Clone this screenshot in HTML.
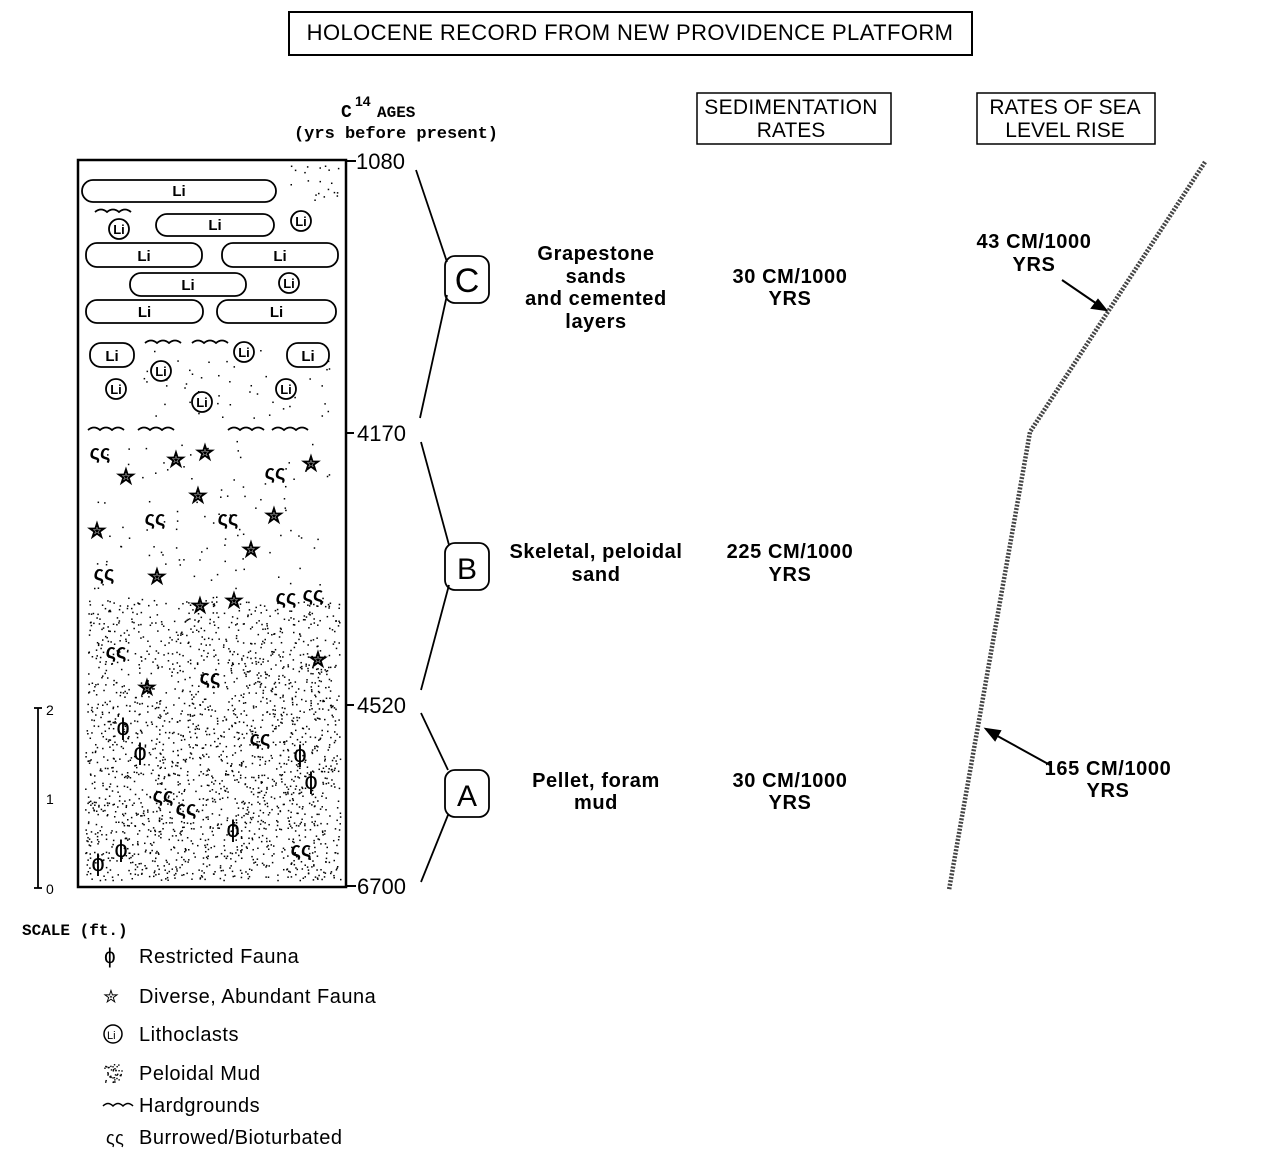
<!DOCTYPE html>
<html><head><meta charset="utf-8"><style>
body{margin:0;background:#fff;}
svg{display:block;font-family:"Liberation Sans",sans-serif;}
.b{font-weight:bold;font-size:20px;letter-spacing:0.6px;}
.n{font-size:22px;}
</style></head><body>
<svg id="s" width="1264" height="1165" viewBox="0 0 1264 1165">
<rect x="289" y="12" width="683" height="43" fill="none" stroke="#000" stroke-width="2"/>
<text x="630" y="40" text-anchor="middle" font-size="22" letter-spacing="0.4">HOLOCENE  RECORD FROM NEW PROVIDENCE  PLATFORM</text>
<text x="341" y="117" font-family="Liberation Mono" font-size="18" font-weight="bold">C</text><text x="355" y="106" font-size="14" font-weight="bold">14</text><text x="377" y="117" font-family="Liberation Mono" font-size="16" font-weight="bold">AGES</text>
<text x="396" y="138" text-anchor="middle" font-family="Liberation Mono" font-size="17" font-weight="bold">(yrs before present)</text>
<rect x="697" y="93" width="194" height="51" fill="none" stroke="#000" stroke-width="1.5"/>
<text x="791" y="114" text-anchor="middle" font-size="21" letter-spacing="0.3">SEDIMENTATION</text><text x="791" y="137" text-anchor="middle" font-size="21">RATES</text>
<rect x="977" y="93" width="178" height="51" fill="none" stroke="#000" stroke-width="1.5"/>
<text x="1065" y="114" text-anchor="middle" font-size="21">RATES OF SEA</text><text x="1065" y="137" text-anchor="middle" font-size="21">LEVEL RISE</text>
<g id="col"></g>
<rect x="78" y="160" width="268" height="727" fill="none" stroke="#000" stroke-width="2.5"/>
<g stroke="#000" stroke-width="2"><line x1="346" y1="161" x2="356" y2="161"/><line x1="346" y1="433" x2="354" y2="433"/><line x1="346" y1="705" x2="354" y2="705"/><line x1="346" y1="886" x2="356" y2="886"/></g>
<text x="356" y="169" class="n">1080</text><text x="357" y="441" class="n">4170</text><text x="357" y="713" class="n">4520</text><text x="357" y="894" class="n">6700</text>
<g fill="none" stroke="#000" stroke-width="1.8">
<polyline points="416,170 447,262"/><polyline points="447,295 420,418"/>
<polyline points="421,442 449,545"/><polyline points="449,585 421,690"/>
<polyline points="421,713 448,770"/><polyline points="448,815 421,882"/>
<rect x="445" y="256" width="44" height="47" rx="10"/><rect x="445" y="543" width="44" height="47" rx="10"/><rect x="445" y="770" width="44" height="47" rx="10"/>
</g>
<text x="467" y="292" text-anchor="middle" font-size="34">C</text><text x="467" y="579" text-anchor="middle" font-size="30">B</text><text x="467" y="806" text-anchor="middle" font-size="30">A</text>
<g class="b" text-anchor="middle">
<text x="596" y="260">Grapestone</text><text x="596" y="283">sands</text><text x="596" y="305">and cemented</text><text x="596" y="328">layers</text>
<text x="790" y="283">30 CM/1000</text><text x="790" y="305">YRS</text>
<text x="596" y="558">Skeletal, peloidal</text><text x="596" y="581">sand</text>
<text x="790" y="558">225 CM/1000</text><text x="790" y="581">YRS</text>
<text x="596" y="787">Pellet, foram</text><text x="596" y="809">mud</text>
<text x="790" y="787">30 CM/1000</text><text x="790" y="809">YRS</text>
<text x="1034" y="248">43 CM/1000</text><text x="1034" y="271">YRS</text>
<text x="1108" y="775">165 CM/1000</text><text x="1108" y="797">YRS</text>
</g>
<polyline points="1205,162 1030,432 949,890" fill="none" stroke="#444" stroke-width="4.5" stroke-dasharray="2 1.5"/>
<g stroke="#000" stroke-width="2" fill="#000">
<line x1="1062" y1="280" x2="1100" y2="306"/><polygon points="1106,310 1092,308 1098,300"/>
<line x1="1050" y1="765" x2="992" y2="733"/><polygon points="986,729 1000,731 995,740"/>
</g>
<g stroke="#000" stroke-width="1.8" fill="none"><line x1="38" y1="708" x2="38" y2="888"/><line x1="34" y1="708" x2="42" y2="708"/><line x1="34" y1="888" x2="42" y2="888"/></g>
<text x="46" y="715" font-size="14">2</text><text x="46" y="804" font-size="14">1</text><text x="46" y="894" font-size="14">0</text>
<text x="22" y="935" font-family="Liberation Mono" font-size="16" font-weight="bold">SCALE (ft.)</text>
<g font-size="20" letter-spacing="0.5">
<text x="104" y="963" font-size="21">ɸ</text><text x="139" y="963">Restricted Fauna</text>
<text x="103" y="1003" font-size="19">✮</text><text x="139" y="1003">Diverse, Abundant Fauna</text>
<circle cx="113" cy="1034" r="9" fill="none" stroke="#000" stroke-width="1.5"/><text x="107" y="1039" font-size="11" letter-spacing="0">Li</text><text x="139" y="1041">Lithoclasts</text>
<text x="139" y="1080">Peloidal Mud</text>
<path d="M103 1106 q5 -5 10 0 q5 -5 10 0 q5 -5 10 0" fill="none" stroke="#000" stroke-width="1.5"/><text x="139" y="1112">Hardgrounds</text>
<text x="106" y="1144" font-size="18">ςς</text><text x="139" y="1144">Burrowed/Bioturbated</text>
</g>
</svg>
<script>
var NS="http://www.w3.org/2000/svg",g=document.getElementById("col");
function el(t,a,txt){var e=document.createElementNS(NS,t);for(var k in a)e.setAttribute(k,a[k]);if(txt)e.textContent=txt;g.appendChild(e);return e;}
var seed=7;function r(){seed=(seed*16807)%2147483647;return seed/2147483647;}
function dots(x0,y0,x1,y1,n){for(var i=0;i<n;i++)el("rect",{x:x0+r()*(x1-x0),y:y0+r()*(y1-y0),width:1.5,height:1.5,fill:"#000"});}
dots(88,600,340,700,650);dots(85,700,340,880,1500);dots(90,440,330,600,110);dots(140,350,330,420,50);dots(290,165,340,200,20);
[[82,180,276,202,"Li"],[156,214,274,236,"Li"],[86,243,202,267,"Li"],[222,243,338,267,"Li"],[130,273,246,296,"Li"],[86,300,203,323,"Li"],[217,300,336,323,"Li"],[90,343,134,367,"Li"],[287,343,329,367,"Li"]].forEach(function(b){
el("rect",{x:b[0],y:b[1],width:b[2]-b[0],height:b[3]-b[1],rx:11,fill:"#fff",stroke:"#000","stroke-width":1.8});
el("text",{x:(b[0]+b[2])/2,y:b[3]-6,"text-anchor":"middle","font-size":15,"font-weight":"bold"},b[4]);});
[[119,229],[301,221],[289,283],[244,352],[161,371],[116,389],[286,389],[202,402]].forEach(function(c){
el("circle",{cx:c[0],cy:c[1],r:10,fill:"#fff",stroke:"#000","stroke-width":1.8});el("text",{x:c[0],y:c[1]+5,"text-anchor":"middle","font-size":13,"font-weight":"bold"},"Li");});
[[95,212],[145,343],[192,343],[88,430],[138,430],[228,430],[272,430]].forEach(function(w){
el("path",{d:"M"+w[0]+" "+w[1]+" q6 -5 12 0 q6 -5 12 0 q6 -5 12 0",fill:"none",stroke:"#000","stroke-width":1.8});});
[[126,476],[176,459],[205,452],[311,463],[198,495],[274,515],[97,530],[251,549],[157,576],[200,605],[234,600],[318,659],[147,687]].forEach(function(s){
el("text",{x:s[0],y:s[1]+8,"text-anchor":"middle","font-size":22,"font-weight":"bold"},"✮");});
[[100,452],[275,472],[155,518],[228,518],[104,573],[286,597],[313,594],[116,651],[210,677],[260,738],[163,795],[186,808],[301,849]].forEach(function(s){
el("text",{x:s[0],y:s[1]+7,"text-anchor":"middle","font-size":20,"font-weight":"bold"},"ςς");});
[[123,727],[140,752],[300,754],[311,781],[233,829],[121,849],[98,863]].forEach(function(s){
el("text",{x:s[0],y:s[1]+8,"text-anchor":"middle","font-size":24},"ɸ");});
for(var i=0;i<40;i++)el("rect",{x:104+r()*18,y:1064+r()*18,width:1.4,height:1.4,fill:"#000"});
</script>
</body></html>
